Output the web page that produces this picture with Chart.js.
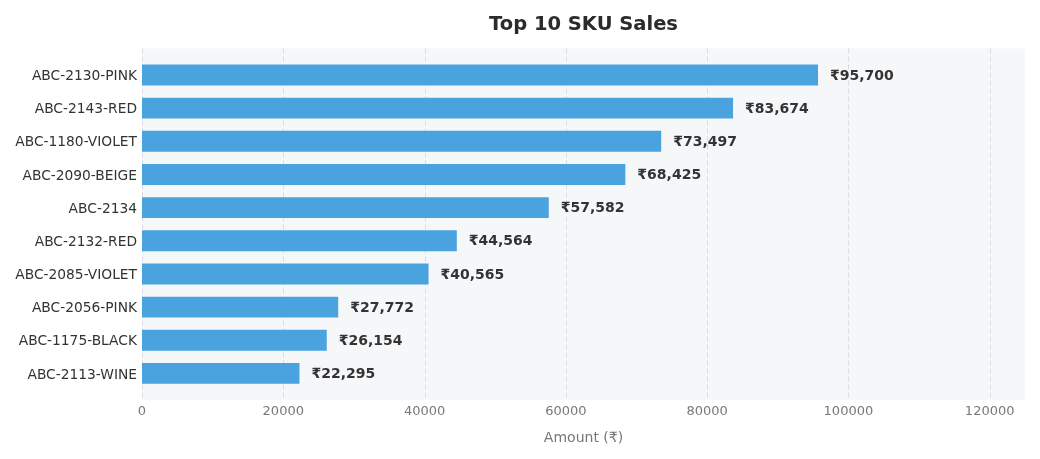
<!DOCTYPE html>
<html>
<head>
<meta charset="utf-8">
<script src="https://cdn.jsdelivr.net/npm/chart.js@4.4.0/dist/chart.umd.min.js"></script>
<style>
  html, body { margin: 0; padding: 0; background: #fff; }
  #wrap { width: 1040px; height: 459px; }
</style>
</head>
<body>
<div id="wrap"><canvas id="skuChart"></canvas></div>
<script>
const skus = ['ABC-2130-PINK', 'ABC-2143-RED', 'ABC-1180-VIOLET', 'ABC-2090-BEIGE', 'ABC-2134',
              'ABC-2132-RED', 'ABC-2085-VIOLET', 'ABC-2056-PINK', 'ABC-1175-BLACK', 'ABC-2113-WINE'];
const sales = [95700, 83674, 73497, 68425, 57582, 44564, 40565, 27772, 26154, 22295];
const xTicks = [0, 20000, 40000, 60000, 80000, 100000, 120000];

const MARGIN = 10; // panel extends a bit above/below the category band

Chart.defaults.font.family = "'DejaVu Sans', sans-serif";

// light panel + dashed vertical grid behind the bars
const plotBg = {
    id: 'plotBg',
    beforeDatasetsDraw(chart) {
        const { ctx, chartArea: a, scales } = chart;
        const top = a.top - MARGIN, bottom = a.bottom + MARGIN;
        ctx.save();
        ctx.fillStyle = '#f6f7f9';
        ctx.fillRect(a.left, top, a.right - a.left, bottom - top);
        ctx.strokeStyle = '#d9dce3';
        ctx.lineWidth = 1;
        ctx.setLineDash([5, 3]);
        xTicks.forEach(v => {
            const x = Math.round(scales.x.getPixelForValue(v)) + 0.5;
            ctx.beginPath();
            ctx.moveTo(x, top);
            ctx.lineTo(x, bottom);
            ctx.stroke();
        });
        ctx.restore();
    }
};

// ₹ labels at the end of each bar
const valueLabels = {
    id: 'valueLabels',
    afterDatasetsDraw(chart) {
        const ctx = chart.ctx;
        const meta = chart.getDatasetMeta(0);
        ctx.save();
        ctx.font = "bold 14px 'DejaVu Sans', sans-serif";
        ctx.fillStyle = '#333333';
        ctx.textBaseline = 'middle';
        ctx.textAlign = 'left';
        meta.data.forEach((bar, i) => {
            ctx.fillText('₹' + sales[i].toLocaleString('en-US'), bar.x + 12, bar.y + 1);
        });
        ctx.restore();
    }
};

new Chart(document.getElementById('skuChart'), {
    type: 'bar',
    data: {
        labels: skus,
        datasets: [{
            data: sales,
            backgroundColor: '#4aa3df',
            borderWidth: 0,
            categoryPercentage: 1,
            barPercentage: 0.63
        }]
    },
    options: {
        indexAxis: 'y',
        responsive: true,
        maintainAspectRatio: false,
        animation: false,
        layout: { padding: { top: 0, right: 15, bottom: 10, left: 0 } },
        plugins: {
            legend: { display: false },
            tooltip: { enabled: false },
            title: {
                display: true,
                fullSize: false,
                text: 'Top 10 SKU Sales',
                color: '#2b2b2b',
                font: { size: 19.5, weight: 'bold' },
                padding: { top: 13, bottom: 22 }
            }
        },
        scales: {
            x: {
                min: 0,
                max: 125000,
                border: { display: false },
                grid: { display: false, drawTicks: false },
                afterBuildTicks(axis) { axis.ticks = xTicks.map(v => ({ value: v })); },
                afterFit(axis) { axis.height = 59; },
                ticks: {
                    color: '#777777',
                    font: { size: 13 },
                    padding: 14,
                    maxRotation: 0,
                    callback: v => String(v)
                },
                title: {
                    display: true,
                    text: 'Amount (₹)',
                    color: '#777777',
                    font: { size: 14 },
                    padding: { top: 6, bottom: 2 }
                }
            },
            y: {
                border: { display: false },
                grid: { display: false, drawTicks: false },
                ticks: { color: '#333333', font: { size: 13.8 }, padding: 5, labelOffset: 1.5 },
                afterFit(axis) { axis.width = 142; }
            }
        }
    },
    plugins: [plotBg, valueLabels]
});
</script>
</body>
</html>
